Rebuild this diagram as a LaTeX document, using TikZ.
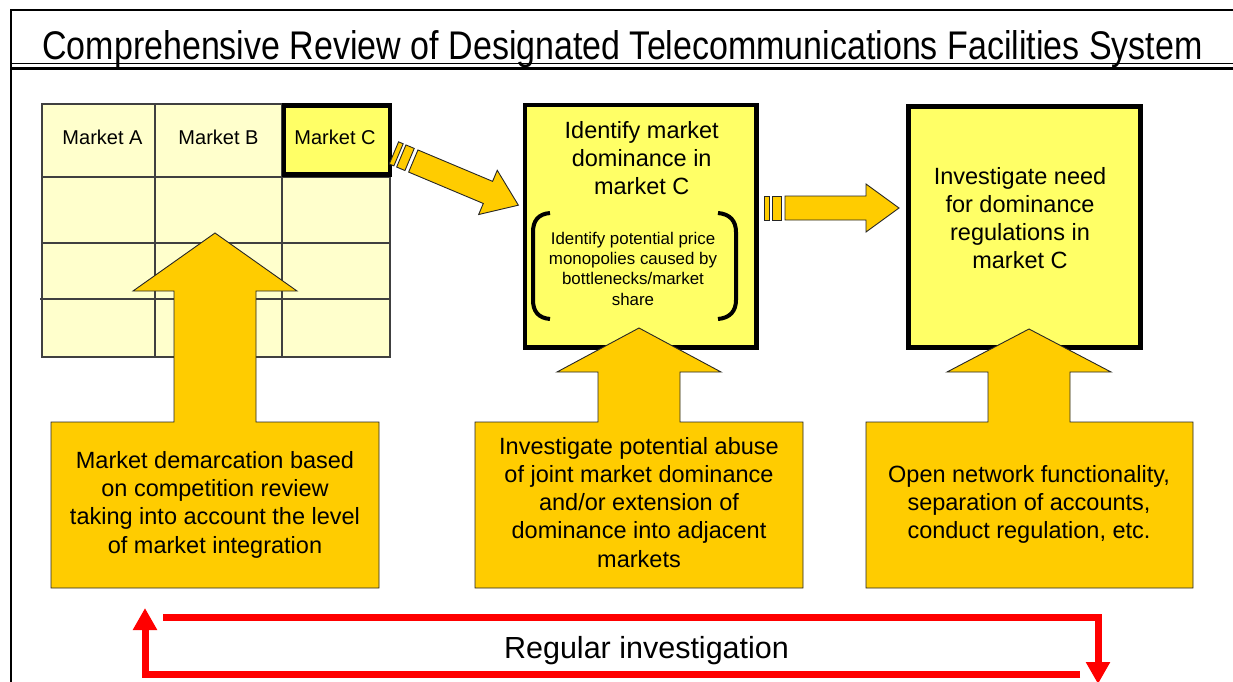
\documentclass[tikz,border=0pt]{standalone}
\usepackage{fontspec}
\setmainfont{Liberation Sans}
\usetikzlibrary{arrows.meta}
\definecolor{gridyel}{HTML}{FFFFCC}
\definecolor{boxyel}{HTML}{FFFF66}
\definecolor{callyel}{HTML}{FFCC00}
\definecolor{loopred}{HTML}{FF0000}
\tikzset{
  gridline/.style={draw=black!75, line width=1.2pt},
  bigbox/.style={draw=black, line width=4.4pt, fill=boxyel, inner sep=0pt},
  callout/.style={draw=black!85, line width=0.9pt, fill=callyel},
  bodytext/.style={font=\fontsize{23.5}{28.2}\selectfont, align=center, inner sep=0pt},
  smalltext/.style={font=\fontsize{16.9}{20.2}\selectfont, align=center, inner sep=0pt},
  celltext/.style={font=\fontsize{20}{24}\selectfont, anchor=base, inner sep=0pt},
  bracket/.style={draw=black, line width=4pt},
  loopline/.style={draw=loopred, line width=7pt, -{Triangle[length=22pt,width=23pt]}},
  stripearrow/.pic={
    \draw[callout] (1,-12) rectangle (6,12);
    \draw[callout] (9,-12) rectangle (18,12);
    \draw[callout] (22,-12) -- (103,-12) -- (103,-24) -- (136,0) -- (103,24) -- (103,12) -- (22,12) -- cycle;
  }
}
\begin{document}
\begin{tikzpicture}[x=1pt,y=-1pt]
\useasboundingbox (0,0) rectangle (1233,682);
% frame and title
\draw[line width=2pt] (11,682) -- (11,10) -- (1233,10);
\node[anchor=base, inner sep=0pt] (title) at (622.5,60)
  {\scalebox{0.85}[1]{\fontsize{40}{48}\selectfont Comprehensive Review of Designated Telecommunications Facilities System}};
\draw[line width=1.2pt] (11,63.5) -- (1233,63.5);
\draw[line width=3.5pt] (11,68.5) -- (1233,68.5);

% market grid
\fill[gridyel] (42,104) rectangle (390,357);
\draw[gridline] (42,104) rectangle (390,357);
\draw[gridline] (42,177) -- (390,177);
\draw[gridline] (42,243) -- (390,243);
\draw[gridline] (40,299) -- (390,299);
\draw[gridline] (155,104) -- (155,357);
\draw[gridline] (282,104) -- (282,357);
\draw[line width=4.3pt, fill=boxyel] (283.8,105.5) rectangle (390.2,174.5);
\node[celltext] (mA) at (102.5,144) {Market A};
\node[celltext] (mB) at (218.5,144) {Market B};
\node[celltext] (mC) at (335,144) {Market C};

% middle box
\node[bigbox, minimum width=231.6pt, minimum height=242.3pt] (idBox) at (640.5,226.2) {};
\node[bodytext] (idText) at (641.7,158) {Identify market\\dominance in\\market C};
\node[smalltext] (idSub) at (633,268.8) {Identify potential price\\monopolies caused by\\bottlenecks/market\\share};
\draw[bracket] (550,213) .. controls (538,214) and (533,221) .. (533,232) -- (533,300) .. controls (533,311) and (538,318) .. (550,319);
\draw[bracket] (718,213) .. controls (730,214) and (736,221) .. (736,232) -- (736,300) .. controls (736,311) and (730,318) .. (718,319);

% right box
\node[bigbox, minimum width=232pt, minimum height=241pt] (needBox) at (1024.5,227) {};
\node[bodytext] (needText) at (1020,218) {Investigate need\\for dominance\\regulations in\\market C};

% striped block arrows
\pic[rotate=-22.8] at (393,152.5) {stripearrow};
\pic at (763,208) {stripearrow};

% callouts
\draw[callout] (51,588) -- (379,588) -- (379,422) -- (256,422) -- (256,291) -- (297,291) -- (215,233) -- (133,291) -- (174,291) -- (174,422) -- (51,422) -- cycle;
\node[bodytext] (c1) at (215,504.7) {Market demarcation based\\on competition review\\taking into account the level\\of market integration};

\draw[callout] (475,588) -- (803,588) -- (803,422) -- (680,422) -- (680,372) -- (721,372) -- (639,328) -- (557,372) -- (598,372) -- (598,422) -- (475,422) -- cycle;
\node[bodytext] (c2) at (639,502.3) {Investigate potential abuse\\of joint market dominance\\and/or extension of\\dominance into adjacent\\markets};

\draw[callout] (866,588) -- (1193,588) -- (1193,422) -- (1070,422) -- (1070,372) -- (1111,372) -- (1029,329) -- (947,372) -- (988,372) -- (988,422) -- (866,422) -- cycle;
\node[bodytext] (c3) at (1029,504.4) {Open network functionality,\\separation of accounts,\\conduct regulation, etc.};

% regular investigation loop
\coordinate (rTopStart) at (163,617);
\coordinate (rTopCorner) at (1098,617);
\coordinate (rDownEnd) at (1098,684);
\coordinate (rBotStart) at (1080,674);
\coordinate (rBotCorner) at (145,674);
\coordinate (rUpEnd) at (145,608);
\draw[loopline] (rTopStart) -- (rTopCorner) -- (rDownEnd);
\draw[loopline] (rBotStart) -- (rBotCorner) -- (rUpEnd);
\node[anchor=base, inner sep=0pt, font=\fontsize{30.5}{36}\selectfont] (loopLabel) at (646.5,658) {Regular investigation};
\end{tikzpicture}
\end{document}
